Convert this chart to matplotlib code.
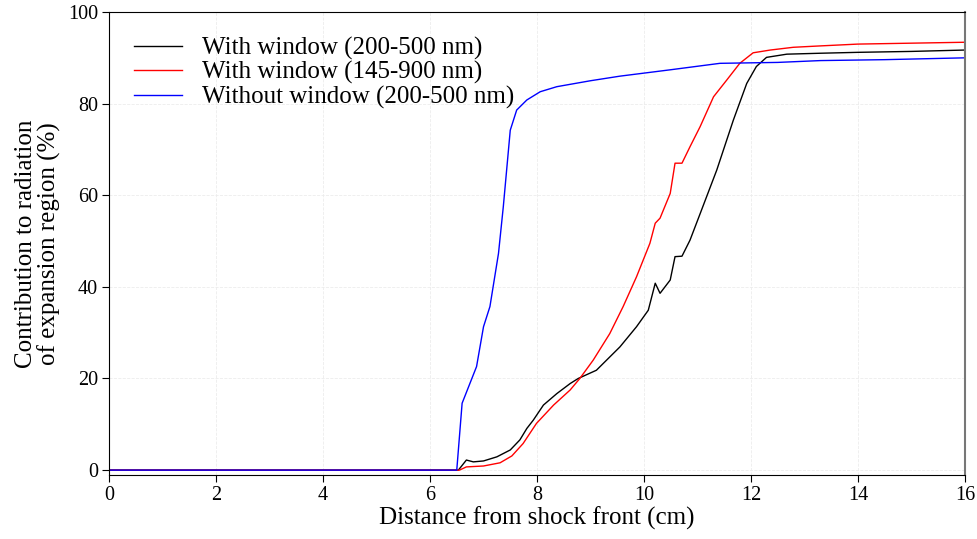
import matplotlib
matplotlib.use('Agg')
import matplotlib.pyplot as plt

# distance from shock front (cm) and contribution (%)
x_black = [0, 6.53, 6.68, 6.81, 7.0, 7.25, 7.5, 7.68, 7.81, 7.93, 8.12, 8.37, 8.62,
           8.77, 9.11, 9.55, 9.86, 10.08, 10.21, 10.30, 10.49, 10.58, 10.71, 10.86,
           11.05, 11.36, 11.67, 11.92, 12.10, 12.29, 12.67, 13.29, 14.0, 15.0, 16.0]
y_black = [0, 0, 2.2, 1.8, 2.0, 2.9, 4.4, 6.6, 9.1, 10.9, 14.2, 16.7, 18.9,
           20.0, 21.8, 26.9, 31.3, 34.9, 40.8, 38.6, 41.5, 46.6, 46.7, 50.2,
           56.0, 65.5, 76.4, 84.4, 88.1, 90.1, 90.8, 91.0, 91.2, 91.4, 91.7]

x_red = [0, 6.55, 6.68, 7.0, 7.31, 7.53, 7.74, 7.99, 8.31, 8.62, 8.80, 9.05, 9.36,
         9.61, 9.86, 10.11, 10.21, 10.30, 10.49, 10.58, 10.71, 10.86, 11.05, 11.30,
         11.55, 11.79, 12.04, 12.36, 12.79, 13.29, 14.0, 15.0, 16.0]
y_red = [0, 0, 0.7, 0.9, 1.6, 3.1, 5.8, 10.2, 14.2, 17.5, 20.0, 24.0, 29.8,
         35.7, 42.2, 49.5, 53.9, 55.0, 60.4, 67.0, 67.0, 70.6, 75.0, 81.5,
         85.2, 88.8, 91.1, 91.7, 92.3, 92.6, 93.0, 93.2, 93.4]

x_blue = [0, 6.5, 6.6, 6.87, 7.0, 7.12, 7.28, 7.37, 7.5, 7.62, 7.81, 8.06, 8.37,
          9.0, 9.55, 10.5, 11.42, 12.5, 13.3, 14.5, 16.0]
y_blue = [0, 0, 14.6, 22.6, 31.3, 35.7, 47.3, 57.5, 74.2, 78.6, 80.8, 82.6, 83.7,
          85.0, 86.0, 87.4, 88.8, 89.0, 89.4, 89.6, 90.0]

labels = ['With window (200-500 nm)', 'With window (145-900 nm)',
          'Without window (200-500 nm)']

plt.rcParams['font.family'] = ['Liberation Serif', 'DejaVu Serif']

fig = plt.figure(figsize=(9.77, 5.39), dpi=100)
ax = fig.add_axes([0.1116, 0.1193, 0.8761, 0.8584])

ax.plot(x_black, y_black, color='black', lw=1.0, label=labels[0])
ax.plot(x_red, y_red, color='red', lw=1.0, label=labels[1])
ax.plot(x_blue, y_blue, color='blue', lw=1.0, label=labels[2])

ax.set_xlim(0, 16)
ax.set_ylim(-1, 100)
ax.set_xticks(range(0, 17, 2))
ax.set_yticks(range(0, 101, 20))
ax.tick_params(labelsize=14.5, length=5, pad=3)
ax.grid(True, color='#ececec', ls='--', lw=0.6)
ax.spines['right'].set_color('#777777')
ax.spines['right'].set_linewidth(1.5)

ax.set_xlabel('Distance from shock front (cm)', fontsize=18, labelpad=1)
ax.set_ylabel('Contribution to radiation\nof expansion region (%)', fontsize=18,
              linespacing=1.05, labelpad=5)
ax.legend(loc='upper left', fontsize=18, frameon=False, handlelength=1.9,
          handletextpad=0.8, labelspacing=0.05, borderaxespad=0.6)

fig.savefig('out.png', dpi=100)
